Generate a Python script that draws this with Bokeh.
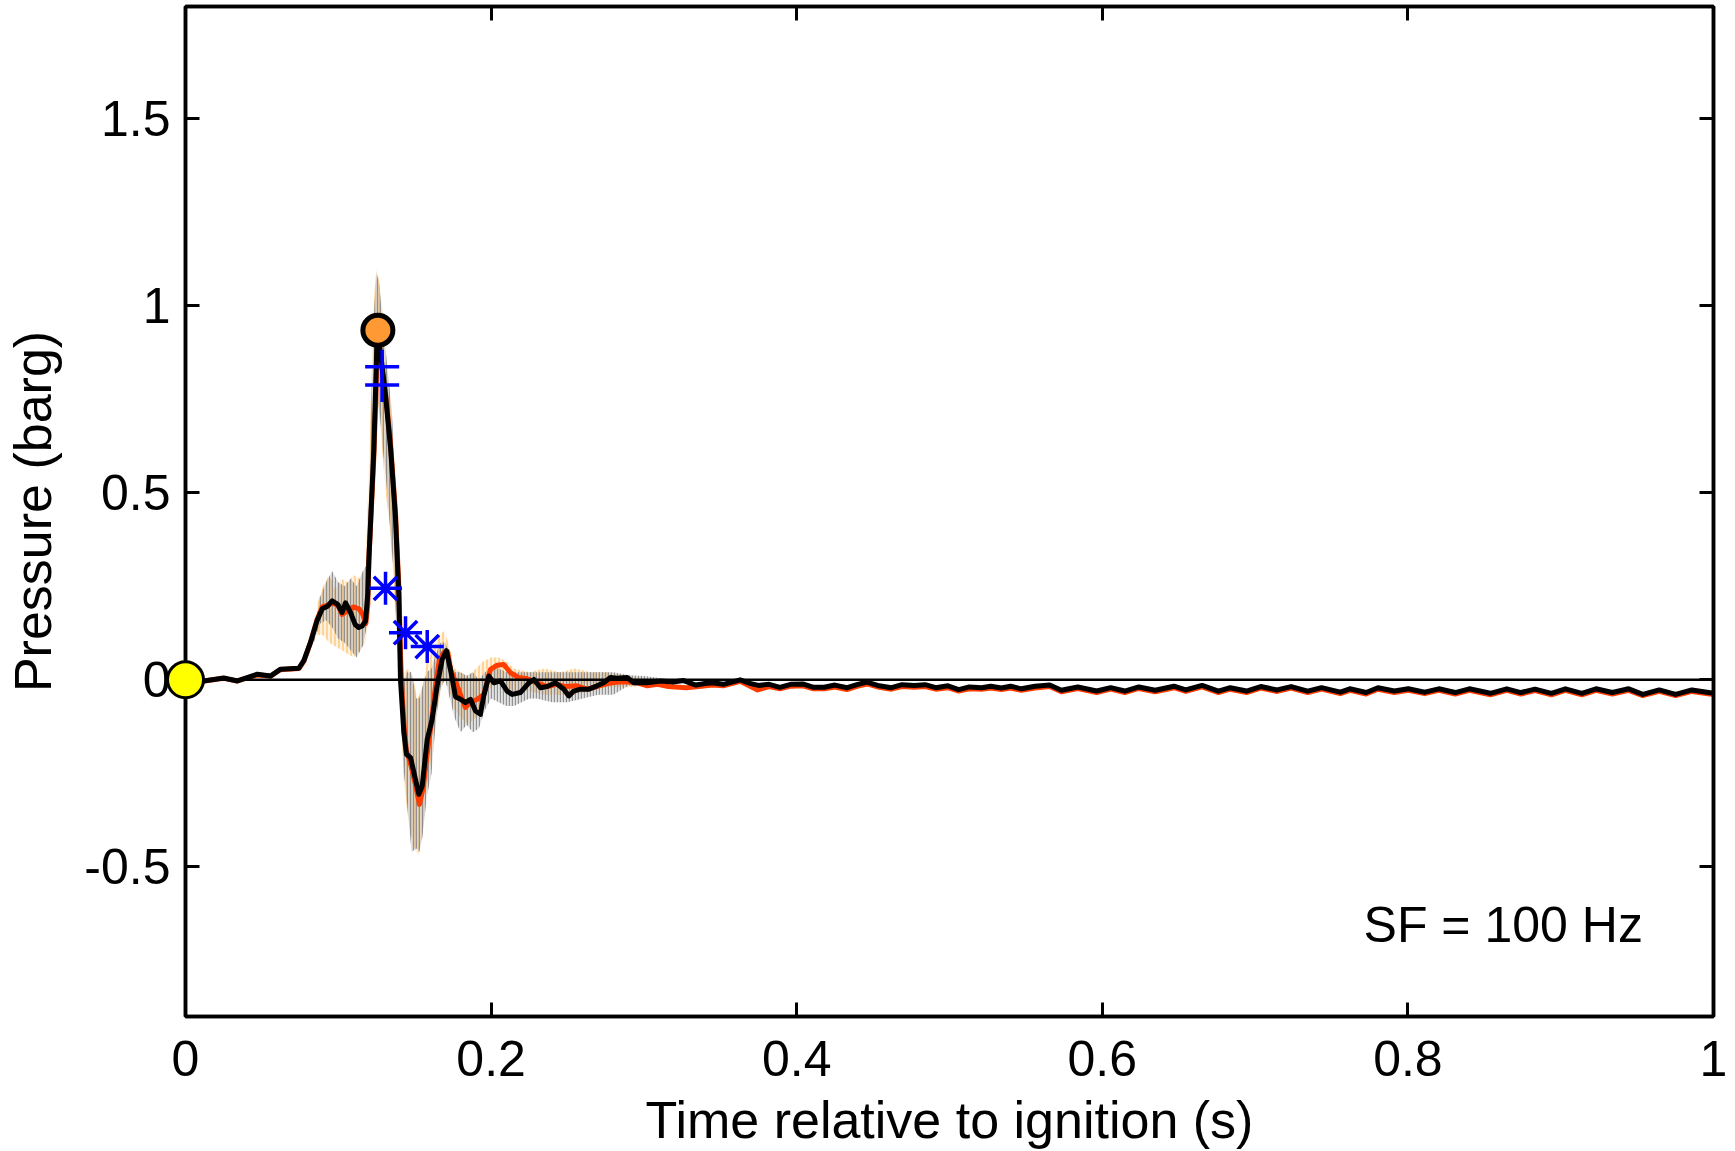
from bokeh.plotting import figure
from bokeh.models import (LinearAxis, FixedTicker, CustomJSTickFormatter, Span,
                          Label, Range1d)
from bokeh.embed import file_html
from bokeh.resources import INLINE

# ---------------- data ----------------
x_ticks = [0, 0.2, 0.4, 0.6, 0.8, 1]
y_ticks = [-0.5, 0, 0.5, 1, 1.5]

# smoothed (black) trace
black_t = [0, 0.012, 0.025, 0.034, 0.047, 0.0556, 0.062, 0.0742, 0.0775, 0.0818,
           0.086, 0.0895, 0.093, 0.096, 0.0996, 0.1025, 0.1047, 0.108, 0.111, 0.1134,
           0.1156, 0.1178, 0.1193, 0.1200, 0.1233, 0.1255, 0.1276, 0.1309, 0.1342, 0.1374,
           0.1396, 0.1407, 0.1429, 0.1446, 0.1473, 0.1505, 0.1527, 0.1549, 0.1582, 0.1614,
           0.1647, 0.168, 0.1708, 0.1734, 0.1767, 0.180, 0.1832, 0.1865, 0.1898, 0.193,
           0.1952, 0.1985, 0.2018, 0.2061, 0.2105, 0.2138, 0.2192, 0.2247, 0.228, 0.2323,
           0.2367, 0.2421, 0.2476, 0.2509, 0.2541, 0.2585, 0.264, 0.2694, 0.2737, 0.2781,
           0.2825, 0.289, 0.2934, 0.302, 0.311, 0.319, 0.326, 0.334, 0.340, 0.345,
           0.352, 0.363, 0.370, 0.375, 0.382, 0.389, 0.396, 0.404, 0.411, 0.418,
           0.425, 0.433, 0.440, 0.446, 0.454, 0.462, 0.469, 0.477, 0.484, 0.491,
           0.499, 0.506, 0.513, 0.521, 0.527, 0.534, 0.540, 0.547, 0.556, 0.5656,
           0.5732, 0.584, 0.5963, 0.6055, 0.6147, 0.6239, 0.6346, 0.6469, 0.6546, 0.6653,
           0.676, 0.6837, 0.6944, 0.7037, 0.7144, 0.7236, 0.7344, 0.7435, 0.7558, 0.762,
           0.7727, 0.7804, 0.7911, 0.8003, 0.811, 0.8202, 0.831, 0.8402, 0.854, 0.8647,
           0.8739, 0.8832, 0.8939, 0.9031, 0.9139, 0.9231, 0.9338, 0.9445, 0.9537, 0.9645,
           0.9752, 0.9859, 1.0]
black_p = [0, -0.003, 0.005, -0.003, 0.015, 0.010, 0.028, 0.031, 0.052, 0.100,
           0.157, 0.190, 0.197, 0.211, 0.202, 0.180, 0.206, 0.180, 0.148, 0.140,
           0.144, 0.157, 0.230, 0.320, 0.620, 0.930, 0.875, 0.762, 0.620, 0.435,
           0.230, 0.000, -0.141, -0.199, -0.208, -0.266, -0.306, -0.284, -0.159, -0.106,
           -0.016, 0.055, 0.078, 0.028, -0.045, -0.052, -0.061, -0.052, -0.083, -0.092,
           -0.043, 0.010, -0.008, -0.003, -0.030, -0.039, -0.034, -0.008, 0.001, -0.021,
           -0.018, -0.008, -0.025, -0.043, -0.030, -0.025, -0.025, -0.016, -0.008, 0.006,
           0.004, 0.006, -0.008, -0.008, -0.003, -0.006, -0.002, -0.014, -0.010, -0.008,
           -0.012, 0.000, -0.010, -0.015, -0.012, -0.020, -0.012, -0.011, -0.020, -0.020,
           -0.014, -0.021, -0.012, -0.006, -0.016, -0.021, -0.013, -0.015, -0.013, -0.021,
           -0.016, -0.026, -0.019, -0.021, -0.017, -0.022, -0.017, -0.024, -0.017, -0.014,
           -0.028, -0.019, -0.030, -0.021, -0.030, -0.019, -0.028, -0.017, -0.027, -0.015,
           -0.030, -0.021, -0.030, -0.018, -0.027, -0.018, -0.030, -0.021, -0.033, -0.024,
           -0.034, -0.021, -0.030, -0.024, -0.033, -0.024, -0.034, -0.024, -0.036, -0.024,
           -0.034, -0.025, -0.036, -0.024, -0.036, -0.024, -0.034, -0.024, -0.039, -0.027,
           -0.039, -0.027, -0.036]

# filtered (red) trace
red_t = [0, 0.012, 0.025, 0.034, 0.047, 0.0556, 0.062, 0.0742, 0.0775, 0.0818,
         0.086, 0.0895, 0.093, 0.096, 0.0996, 0.1025, 0.106, 0.110, 0.1135, 0.116,
         0.118, 0.1193, 0.120, 0.1233, 0.1255, 0.128, 0.131, 0.134, 0.1374, 0.1396,
         0.141, 0.143, 0.1446, 0.147, 0.1505, 0.1531, 0.1555, 0.158, 0.161, 0.1636,
         0.166, 0.169, 0.1715, 0.1734, 0.1778, 0.1832, 0.1865, 0.191, 0.1952, 0.1996,
         0.204, 0.2083, 0.2127, 0.2181, 0.2236, 0.2302, 0.2367, 0.243, 0.249, 0.256,
         0.2629, 0.269, 0.276, 0.283, 0.289, 0.2956, 0.3022, 0.309, 0.316, 0.3277,
         0.336, 0.345, 0.352, 0.363, 0.3744, 0.382, 0.389, 0.396, 0.404, 0.411,
         0.418, 0.425, 0.4328, 0.440, 0.446, 0.454, 0.462, 0.469, 0.477, 0.484,
         0.491, 0.499, 0.506, 0.513, 0.521, 0.527, 0.534, 0.540, 0.547, 0.556,
         0.5656, 0.5732, 0.584, 0.5963, 0.6055, 0.6147, 0.6239, 0.6346, 0.6469, 0.6546,
         0.6653, 0.676, 0.6837, 0.6944, 0.7037, 0.7144, 0.7236, 0.7344, 0.7435, 0.7558,
         0.762, 0.7727, 0.7804, 0.7911, 0.8003, 0.811, 0.8202, 0.831, 0.8402, 0.854,
         0.8647, 0.8739, 0.8832, 0.8939, 0.9031, 0.9139, 0.9231, 0.9338, 0.9445, 0.9537,
         0.9645, 0.9752, 0.9859, 1.0]
red_p = [0, -0.003, 0.004, -0.003, 0.013, 0.010, 0.027, 0.030, 0.050, 0.100,
         0.160, 0.195, 0.200, 0.205, 0.200, 0.175, 0.185, 0.195, 0.190, 0.175,
         0.150, 0.200, 0.320, 0.600, 0.880, 0.850, 0.760, 0.640, 0.450, 0.250,
         0.020, -0.120, -0.190, -0.220, -0.280, -0.333, -0.290, -0.204, -0.110, -0.016,
         0.050, 0.073, 0.075, 0.028, -0.016, -0.074, -0.060, -0.052, -0.039, 0.028,
         0.039, 0.041, 0.019, 0.006, 0.003, -0.008, -0.018, -0.012, -0.018, -0.016,
         -0.025, -0.018, -0.010, -0.006, -0.005, -0.008, -0.016, -0.012, -0.018, -0.021,
         -0.018, -0.014, -0.016, -0.004, -0.027, -0.018, -0.024, -0.017, -0.016, -0.024,
         -0.024, -0.019, -0.026, -0.017, -0.011, -0.020, -0.025, -0.018, -0.020, -0.018,
         -0.025, -0.021, -0.030, -0.024, -0.025, -0.022, -0.026, -0.022, -0.028, -0.022,
         -0.018, -0.032, -0.023, -0.034, -0.025, -0.034, -0.023, -0.032, -0.021, -0.031,
         -0.019, -0.034, -0.025, -0.034, -0.022, -0.031, -0.022, -0.034, -0.025, -0.037,
         -0.028, -0.038, -0.025, -0.034, -0.028, -0.037, -0.028, -0.038, -0.028, -0.040,
         -0.028, -0.038, -0.029, -0.040, -0.028, -0.040, -0.028, -0.038, -0.028, -0.042,
         -0.031, -0.042, -0.031, -0.039]

# raw signal spread (grey): time, low, high
grey_t = [0.084, 0.088, 0.092, 0.096, 0.100, 0.104, 0.108, 0.112, 0.116, 0.119,
          0.121, 0.123, 0.125, 0.127, 0.129, 0.131, 0.133, 0.135, 0.137, 0.139,
          0.141, 0.143, 0.145, 0.148, 0.151, 0.153, 0.155, 0.158, 0.161, 0.164,
          0.167, 0.170, 0.173, 0.176, 0.180, 0.184, 0.188, 0.192, 0.196, 0.200,
          0.205, 0.210, 0.215, 0.220, 0.225, 0.230, 0.240, 0.250, 0.260, 0.270,
          0.280, 0.290, 0.300, 0.310]
grey_lo = [0.10, 0.15, 0.16, 0.14, 0.11, 0.10, 0.08, 0.06, 0.09, 0.15,
           0.30, 0.55, 0.75, 0.72, 0.62, 0.55, 0.45, 0.35, 0.25, 0.05,
           -0.10, -0.25, -0.33, -0.46, -0.45, -0.46, -0.42, -0.31, -0.25, -0.10,
           -0.02, 0.00, -0.05, -0.10, -0.14, -0.12, -0.14, -0.13, -0.08, -0.05,
           -0.06, -0.07, -0.07, -0.06, -0.05, -0.05, -0.06, -0.06, -0.05, -0.04,
           -0.04, -0.015, -0.015, -0.01]
grey_hi = [0.12, 0.22, 0.26, 0.29, 0.26, 0.25, 0.27, 0.25, 0.29, 0.31,
           0.62, 0.95, 1.09, 1.05, 0.95, 0.88, 0.80, 0.72, 0.55, 0.35,
           0.15, 0.00, 0.02, 0.02, -0.05, -0.05, -0.02, 0.02, 0.03, 0.07,
           0.10, 0.10, 0.06, 0.02, 0.02, 0.01, 0.02, 0.00, 0.02, 0.03,
           0.03, 0.02, 0.02, 0.02, 0.02, 0.02, 0.02, 0.02, 0.02, 0.02,
           0.02, 0.012, 0.01, 0.005]

# raw signal spread (orange): time, low, high
orange_t = [0.086, 0.090, 0.094, 0.098, 0.102, 0.106, 0.110, 0.114, 0.118, 0.121,
            0.123, 0.125, 0.127, 0.129, 0.131, 0.134, 0.137, 0.140, 0.143, 0.146,
            0.149, 0.152, 0.155, 0.158, 0.162, 0.166, 0.169, 0.172, 0.176, 0.180,
            0.185, 0.190, 0.195, 0.200, 0.205, 0.210, 0.215, 0.225, 0.235, 0.245,
            0.255, 0.265, 0.275, 0.290, 0.300]
orange_lo = [0.12, 0.12, 0.10, 0.09, 0.08, 0.07, 0.06, 0.08, 0.10, 0.35,
             0.60, 0.78, 0.70, 0.60, 0.50, 0.40, 0.20, 0.00, -0.28, -0.38,
             -0.44, -0.47, -0.42, -0.28, -0.18, -0.05, 0.00, -0.02, -0.08, -0.10,
             -0.12, -0.10, -0.05, -0.02, -0.01, -0.02, -0.03, -0.03, -0.04, -0.04,
             -0.04, -0.03, -0.02, -0.02, -0.015]
orange_hi = [0.20, 0.25, 0.28, 0.24, 0.27, 0.26, 0.28, 0.27, 0.30, 0.70,
             1.00, 1.10, 1.06, 0.98, 0.85, 0.75, 0.55, 0.25, 0.02, 0.03,
             0.00, -0.05, -0.02, 0.05, 0.08, 0.12, 0.13, 0.10, 0.03, 0.02,
             0.01, 0.03, 0.05, 0.06, 0.06, 0.05, 0.03, 0.02, 0.03, 0.02,
             0.03, 0.02, 0.02, 0.01, 0.005]

# markers
ignition_t, ignition_p = [0.0], [0.0]
peak_t, peak_p = [0.1259], [0.9345]
plus_t, plus_p = [0.1287, 0.1287], [0.837, 0.788]
star_t, star_p = [0.1309, 0.144, 0.1582], [0.2446, 0.126, 0.0888]

annotation = "SF = 100 Hz"
x_label = "Time relative to ignition (s)"
y_label = "Pressure (barg)"

# ---------------- figure ----------------
FONT = "Liberation Sans"
p = figure(width=1735, height=1151, x_range=Range1d(0, 1), y_range=Range1d(-0.9, 1.8),
           output_backend="svg", toolbar_location=None,
           min_border_left=185, min_border_right=22, min_border_top=6, min_border_bottom=135,
           x_axis_label=x_label, y_axis_label=y_label)
p.xgrid.visible = False
p.ygrid.visible = False
p.outline_line_color = "black"
p.outline_line_width = 3.5
p.outline_line_alpha = 1.0
p.background_fill_color = "white"
p.border_fill_color = "white"

fmt = CustomJSTickFormatter(code="return tick.toString();")


def style_axis(ax, ticks, labels=True):
    ax.ticker = FixedTicker(ticks=ticks)
    ax.axis_line_width = 3.5
    ax.axis_line_color = "black"
    ax.major_tick_in = 14
    ax.major_tick_out = 0
    ax.major_tick_line_width = 3
    ax.major_tick_line_color = "black"
    ax.minor_tick_line_color = None
    if labels:
        ax.formatter = fmt
        ax.major_label_text_font = FONT
        ax.major_label_text_font_size = "50px"
        ax.major_label_text_color = "black"
        ax.axis_label_text_font = FONT
        ax.axis_label_text_font_size = "52px"
        ax.axis_label_text_font_style = "normal"
        ax.axis_label_text_color = "black"
    else:
        ax.major_label_text_color = None
        ax.major_label_text_font_size = "1px"
        ax.major_label_standoff = 0


style_axis(p.xaxis[0], x_ticks)
style_axis(p.yaxis[0], y_ticks)
p.xaxis[0].major_label_standoff = 24
p.xaxis[0].axis_label_standoff = 12
p.yaxis[0].major_label_standoff = 15
p.yaxis[0].axis_label_standoff = 19

ax_r = LinearAxis()
style_axis(ax_r, y_ticks, labels=False)
p.add_layout(ax_r, "right")
ax_t = LinearAxis()
style_axis(ax_t, x_ticks, labels=False)
p.add_layout(ax_t, "above")

# raw spreads (orange first, grey over it)
p.varea(x=orange_t, y1=orange_lo, y2=orange_hi, fill_color="#ffc06a", fill_alpha=0.2,
        hatch_pattern="|", hatch_color="#ffb040", hatch_alpha=0.7, hatch_scale=4, hatch_weight=1.3)
p.varea(x=grey_t, y1=grey_lo, y2=grey_hi, fill_color="#a0a0a0", fill_alpha=0.3,
        hatch_pattern="|", hatch_color="#8a8a8a", hatch_alpha=0.9, hatch_scale=3, hatch_weight=1.3)

# zero line
p.add_layout(Span(location=0, dimension="width", line_color="black", line_width=2.5))

# traces
p.line(red_t, red_p, line_color="#ff3c00", line_width=5, line_join="round")
p.line(black_t, black_p, line_color="black", line_width=5, line_join="round")

# markers
p.scatter(plus_t, plus_p, marker="cross", size=34, line_color="#0000ff", line_width=3.5)
p.scatter(star_t, star_p, marker="asterisk", size=33, line_color="#0000ff", line_width=3.5)
p.scatter(peak_t, peak_p, marker="circle", size=30, fill_color="#ff9933",
          line_color="black", line_width=5)
ign = p.scatter(ignition_t, ignition_p, marker="circle", size=36, fill_color="#ffff00",
                line_color="black", line_width=3)
ign.level = "overlay"

p.add_layout(Label(x=0.771, y=-0.655, text=annotation, text_font=FONT, text_font_size="50px",
                   text_color="black", text_baseline="alphabetic"))

open("out.html", "w").write(file_html(p, INLINE))
